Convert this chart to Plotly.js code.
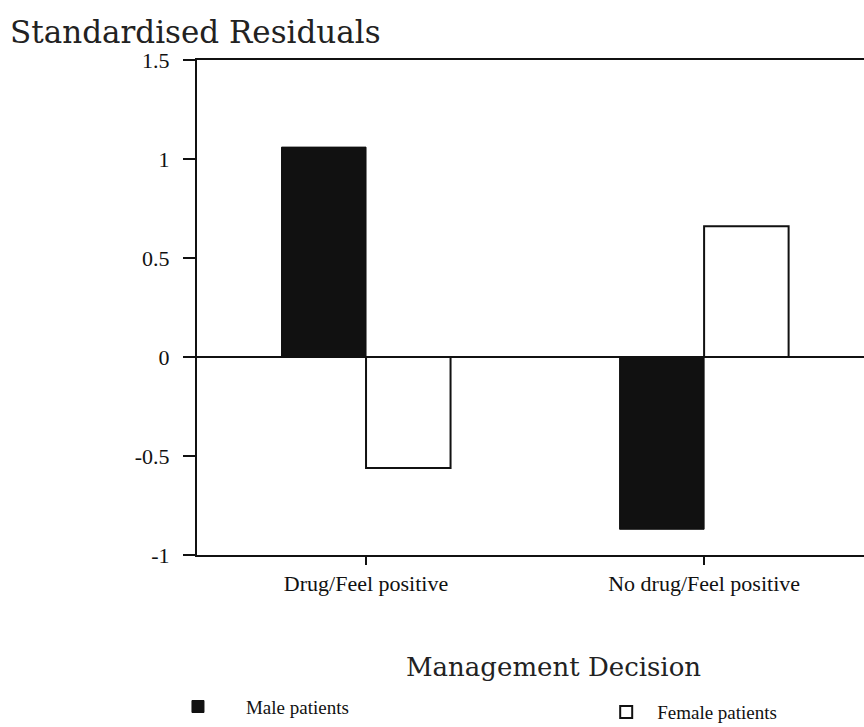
<!DOCTYPE html>
<html>
<head>
<meta charset="utf-8">
<script src="https://cdn.plot.ly/plotly-3.0.1.min.js"></script>
<style>html,body{margin:0;padding:0;background:#fff;}#chart{width:864px;height:727px;}</style>
</head>
<body>
<div id="chart"></div>
<script>
const categories = ["Drug/Feel positive", "No drug/Feel positive"];
const maleValues = [1.06, -0.87];
const femaleValues = [-0.56, 0.66];
const seriesNames = ["Male patients", "Female patients"];
const yTickVals = [-1, -0.5, 0, 0.5, 1, 1.5];
const yTickText = ["-1", "-0.5", "0", "0.5", "1", "1.5"];

const serif = "Liberation Serif, Times New Roman, serif";
const titleFont = "DejaVu Serif, serif";

const traces = [
  {
    type: "bar", x: categories, y: maleValues, name: seriesNames[0],
    marker: {color: "#111111", line: {color: "#111111", width: 1}},
    legend: "legend"
  },
  {
    type: "bar", x: categories, y: femaleValues, name: seriesNames[1],
    marker: {color: "#ffffff", line: {color: "#111111", width: 2}},
    legend: "legend2"
  }
];

const layout = {
  width: 864, height: 727,
  margin: {l: 197, r: 0, t: 60, b: 172, autoexpand: false},
  paper_bgcolor: "#ffffff", plot_bgcolor: "#ffffff",
  barmode: "group", bargap: 0.5, bargroupgap: 0,
  showlegend: true,
  legend: {
    x: -0.0705, y: -0.268, xanchor: "left", yanchor: "top",
    font: {family: serif, size: 19, color: "#111"},
    itemwidth: 86, bgcolor: "rgba(0,0,0,0)"
  },
  legend2: {
    x: 0.597, y: -0.279, xanchor: "left", yanchor: "top",
    font: {family: serif, size: 19, color: "#111"},
    itemwidth: 52, bgcolor: "rgba(0,0,0,0)"
  },
  xaxis: {
    type: "category",
    range: [-0.5, 1.473],
    showline: true, linecolor: "#111", linewidth: 2, mirror: true,
    ticks: "outside", ticklen: 8, tickwidth: 2, tickcolor: "#111",
    tickfont: {family: serif, size: 22, color: "#111"},
    showgrid: false, zeroline: false
  },
  yaxis: {
    range: [-1, 1.5],
    tickvals: yTickVals, ticktext: yTickText,
    showline: true, linecolor: "#111", linewidth: 2,
    ticks: "outside", ticklen: 12, tickwidth: 2, tickcolor: "#111",
    ticklabelstandoff: 9,
    tickfont: {family: serif, size: 22, color: "#111"},
    showgrid: false,
    zeroline: true, zerolinecolor: "#111", zerolinewidth: 2
  },
  annotations: [
    {
      text: "Standardised Residuals", xref: "paper", yref: "paper",
      x: -0.283, y: 1.057, xanchor: "left", yanchor: "middle", showarrow: false,
      font: {family: titleFont, size: 31, color: "#222"}
    },
    {
      text: "Management Decision", xref: "paper", yref: "paper",
      x: 0.534, y: -0.226, xanchor: "center", yanchor: "middle", showarrow: false,
      font: {family: titleFont, size: 26, color: "#222"}
    }
  ]
};

Plotly.newPlot("chart", traces, layout, {displayModeBar: false, staticPlot: true});
</script>
</body>
</html>
